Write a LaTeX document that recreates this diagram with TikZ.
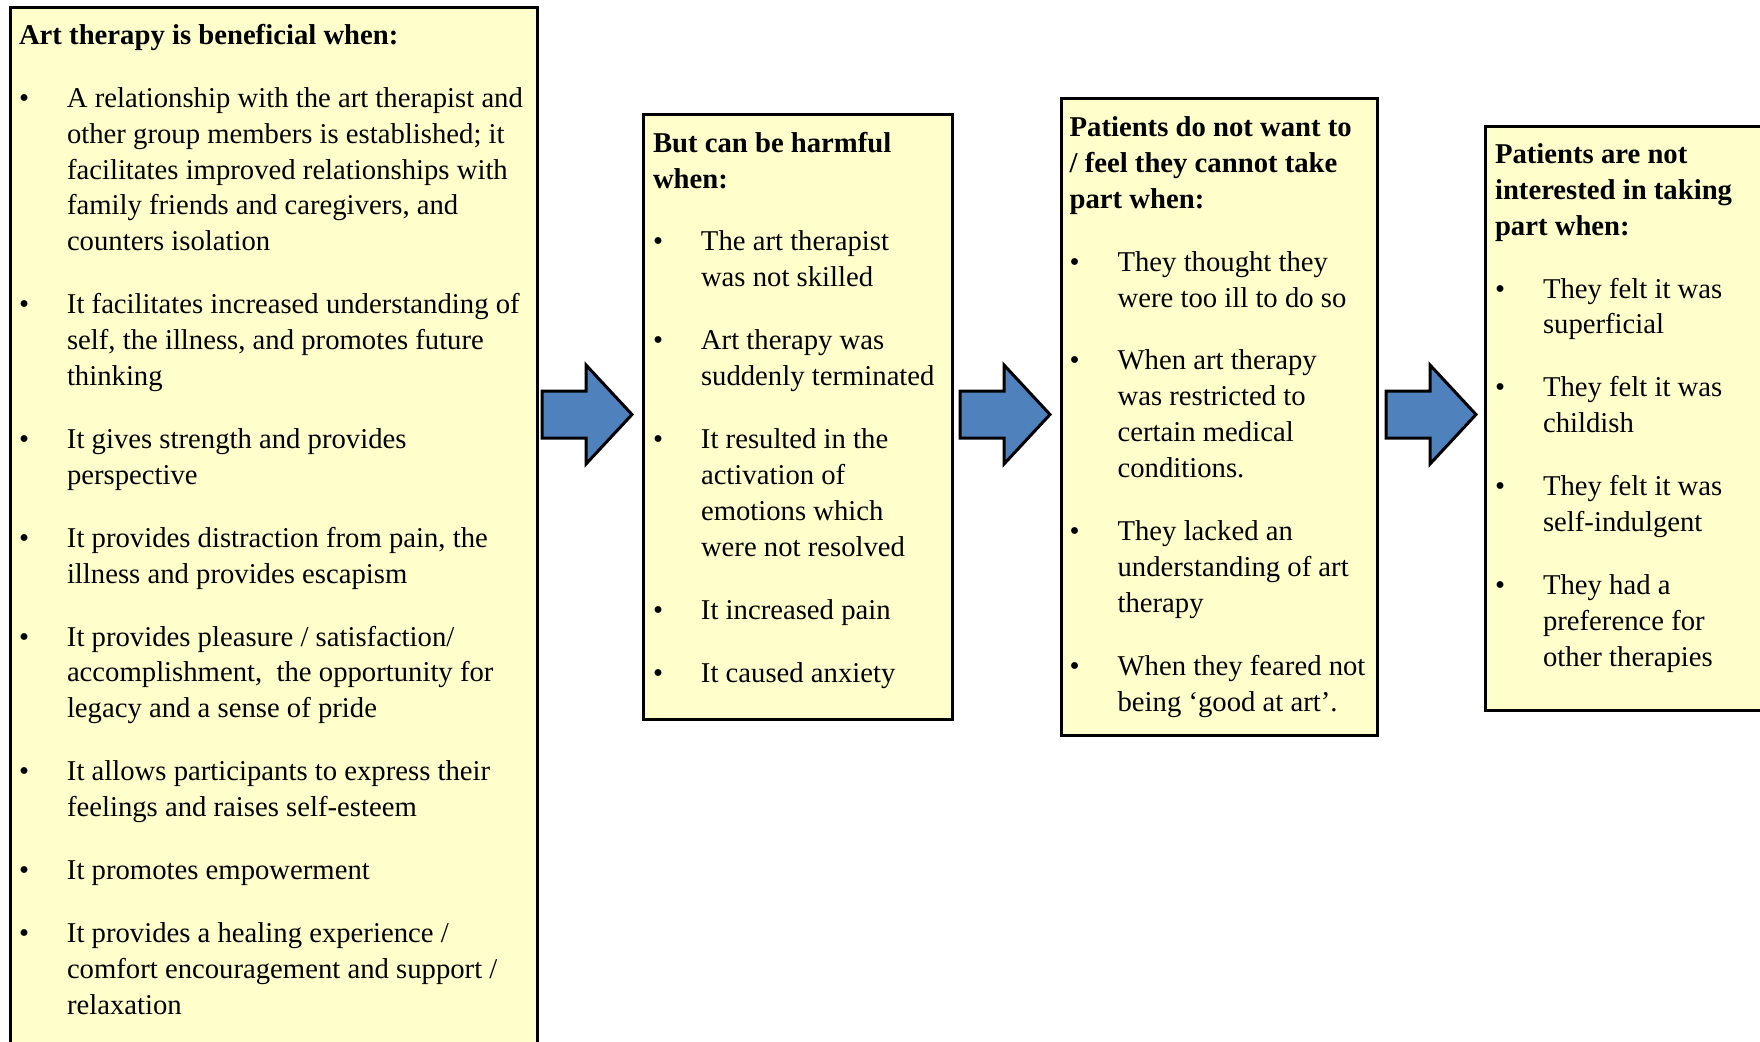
\documentclass[tikz,border=0pt]{standalone}
\usepackage{fontspec}
\setmainfont{Liberation Serif}
\definecolor{boxfill}{HTML}{FFFFCC}
\definecolor{arrowblue}{HTML}{4F81BD}
\newcommand\myhead[1]{\hbox{\bfseries #1}}
\newcommand\myitem[1]{\vskip13.5pt\hbox{\rlap{\textbullet}\hspace*{24pt}#1}}
\newcommand\mycont[1]{\hbox{\hspace*{24pt}#1}}
\newcommand\mytxt[1]{\vtop{\fontsize{14.35pt}{17.95pt}\selectfont #1}}
\tikzset{
  panel/.style={draw=black, line width=1.6pt, fill=boxfill, inner sep=0pt, anchor=north west},
  blockarrow/.style={draw=black, line width=1.5pt, fill=arrowblue, line join=miter},
  txt/.style={anchor=base west, inner sep=0pt, outer sep=0pt}
}
\begin{document}
\begin{tikzpicture}[x=0.5pt, y=-0.5pt]
\useasboundingbox (0,0) rectangle (1760,1041);
\clip (0,0) rectangle (1760,1041);
% panels
\node[panel, minimum width=263.5pt, minimum height=532pt] (b1) at (9,6) {};
\node[panel, minimum width=154.5pt, minimum height=302.5pt] (b2) at (642,113) {};
\node[panel, minimum width=158.25pt, minimum height=318.75pt] (b3) at (1059.5,96.5) {};
\node[panel, minimum width=153pt, minimum height=292.2pt] (b4) at (1484,124.6) {};
% block arrows
\foreach \dx in {0,418,844}{
  \draw[blockarrow, shift={(\dx,0)}] (542,391) -- (586,391) -- (586,365) -- (632,414.5) -- (586,464) -- (586,438) -- (542,438) -- cycle;
}
% texts
\node[txt] (t1) at (19,44.3) {\mytxt{%
\myhead{Art therapy is beneficial when:}
\myitem{A relationship with the art therapist and}
\mycont{other group members is established; it}
\mycont{facilitates improved relationships with}
\mycont{family friends and caregivers, and}
\mycont{counters isolation}
\myitem{It facilitates increased understanding of}
\mycont{self, the illness, and promotes future}
\mycont{thinking}
\myitem{It gives strength and provides}
\mycont{perspective}
\myitem{It provides distraction from pain, the}
\mycont{illness and provides escapism}
\myitem{It provides pleasure / satisfaction/}
\mycont{accomplishment,\ \ the opportunity for}
\mycont{legacy and a sense of pride}
\myitem{It allows participants to express their}
\mycont{feelings and raises self-esteem}
\myitem{It promotes empowerment}
\myitem{It provides a healing experience /}
\mycont{comfort encouragement and support /}
\mycont{relaxation}
}};
\node[txt] (t2) at (653,152.1) {\mytxt{%
\myhead{But can be harmful}
\myhead{when:}
\myitem{The art therapist}
\mycont{was not skilled}
\myitem{Art therapy was}
\mycont{suddenly terminated}
\myitem{It resulted in the}
\mycont{activation of}
\mycont{emotions which}
\mycont{were not resolved}
\myitem{It increased pain}
\myitem{It caused anxiety}
}};
\node[txt] (t3) at (1069.6,136.4) {\mytxt{%
\myhead{Patients do not want to}
\myhead{/ feel they cannot take}
\myhead{part when:}
\myitem{They thought they}
\mycont{were too ill to do so}
\myitem{When art therapy}
\mycont{was restricted to}
\mycont{certain medical}
\mycont{conditions.}
\myitem{They lacked an}
\mycont{understanding of art}
\mycont{therapy}
\myitem{When they feared not}
\mycont{being `good at art'.}
}};
\node[txt] (t4) at (1495,163.3) {\mytxt{%
\myhead{Patients are not}
\myhead{interested in taking}
\myhead{part when:}
\myitem{They felt it was}
\mycont{superficial}
\myitem{They felt it was}
\mycont{childish}
\myitem{They felt it was}
\mycont{self-indulgent}
\myitem{They had a}
\mycont{preference for}
\mycont{other therapies}
}};
\end{tikzpicture}
\end{document}
